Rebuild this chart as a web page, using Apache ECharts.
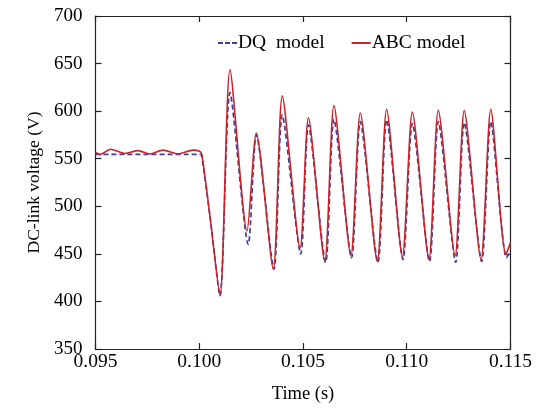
<!DOCTYPE html>
<html>
<head>
<meta charset="utf-8">
<script src="https://cdn.jsdelivr.net/npm/echarts@6/dist/echarts.min.js"></script>
<style>html,body{margin:0;padding:0;background:#fff}#c{width:542px;height:410px}</style>
</head>
<body>
<div id="c"></div>
<script>
// Time (s) and voltage (V) values
var tABC = [0.0950, 0.09522, 0.09573, 0.09642, 0.09705, 0.09763, 0.09825, 0.09898, 0.09970, 0.09999,
  0.10012, 0.10052, 0.10100, 0.10148, 0.10230, 0.10275, 0.10357, 0.10400, 0.10486, 0.10526,
  0.10605, 0.10649, 0.10731, 0.10776, 0.10858, 0.10903, 0.10979, 0.11027, 0.11107, 0.11152,
  0.11233, 0.11277, 0.11358, 0.11405, 0.11478, 0.11500];
var vABC = [556.5, 554.5, 560, 555.5, 558.5, 555, 559, 555, 559, 558,
  555, 489, 406, 643.5, 474, 577, 434, 616, 456, 593,
  442, 606, 448, 598, 442, 602, 447, 599, 444, 601,
  448, 600.5, 444, 602, 449, 462];
var tDQ = [0.0950, 0.10004, 0.10012, 0.10052, 0.10100, 0.10148, 0.10236, 0.10275, 0.10360, 0.10400,
  0.10489, 0.10526, 0.10609, 0.10649, 0.10734, 0.10776, 0.10861, 0.10903, 0.10982, 0.11027,
  0.11110, 0.11152, 0.11236, 0.11277, 0.11361, 0.11405, 0.11481, 0.11500];
var vDQ = [554.5, 554.5, 553, 489, 406, 619.5, 460, 575, 434, 596,
  450, 585.5, 441, 591.5, 446, 589, 441, 591, 444, 587,
  442, 589, 441, 588, 442, 589, 446, 453];
var xTicks = [0.095, 0.100, 0.105, 0.110, 0.115];
var yTicks = [350, 400, 450, 500, 550, 600, 650, 700];

function zip(a, b) { return a.map(function (v, i) { return [v, b[i]]; }); }

var FONT = 'Liberation Serif';
var BLUE = '#3b3f98', RED = '#c8242b';
var chart = echarts.init(document.getElementById('c'), null, { renderer: 'canvas' });
var axisLineStyle = { color: '#222', width: 1.2 };
var common = {
  axisLine: { show: true, lineStyle: axisLineStyle },
  axisTick: { show: true, inside: true, length: 6, lineStyle: axisLineStyle },
  splitLine: { show: false }
};
chart.setOption({
  backgroundColor: '#fff',
  animation: false,
  grid: { left: 95.5, right: 31.5, top: 16, bottom: 61, containLabel: false },
  legend: {
    left: 218, top: 33, padding: 0,
    itemWidth: 19, itemHeight: 2, itemGap: 27,
    textStyle: { fontFamily: FONT, fontSize: 19.5, color: '#000', padding: [0, 0, 0, -4] },
    data: [
      { name: 'DQ  model', icon: 'path://M0,0h5v2h-5z M7,0h5v2h-5z M14,0h5v2h-5z', itemStyle: { color: BLUE } },
      { name: 'ABC model', icon: 'path://M0,0h19v2h-19z', itemStyle: { color: RED } }
    ]
  },
  xAxis: [
    Object.assign({
      type: 'value', min: xTicks[0], max: xTicks[xTicks.length - 1], interval: 0.005,
      position: 'bottom',
      name: 'Time (s)', nameLocation: 'middle', nameGap: 36,
      nameTextStyle: { fontFamily: FONT, fontSize: 18.5, color: '#000' },
      axisLabel: { margin: 3, fontFamily: FONT, fontSize: 19.5, color: '#000',
        formatter: function (v) { return v.toFixed(3); } }
    }, common),
    Object.assign({
      type: 'value', min: xTicks[0], max: xTicks[xTicks.length - 1], interval: 0.005,
      position: 'top', axisLabel: { show: false }
    }, common)
  ],
  yAxis: [
    Object.assign({
      type: 'value', min: yTicks[0], max: yTicks[yTicks.length - 1], interval: 50,
      position: 'left',
      name: 'DC-link voltage (V)', nameLocation: 'middle', nameGap: 51,
      nameTextStyle: { fontFamily: FONT, fontSize: 17.5, color: '#000' },
      axisLabel: { margin: 13, fontFamily: FONT, fontSize: 19, color: '#000' }
    }, common),
    Object.assign({
      type: 'value', min: yTicks[0], max: yTicks[yTicks.length - 1], interval: 50,
      position: 'right', axisLabel: { show: false }
    }, common)
  ],
  series: [
    {
      name: 'DQ  model', type: 'line', data: zip(tDQ, vDQ),
      showSymbol: false, symbol: 'none', smooth: 0.25,
      lineStyle: { color: BLUE, width: 1.7, type: [5, 3] },
      itemStyle: { color: BLUE }, z: 2
    },
    {
      name: 'ABC model', type: 'line', data: zip(tABC, vABC),
      showSymbol: false, symbol: 'none', smooth: 0.25,
      lineStyle: { color: RED, width: 1.6 },
      itemStyle: { color: RED }, z: 3
    }
  ]
});
</script>
</body>
</html>
